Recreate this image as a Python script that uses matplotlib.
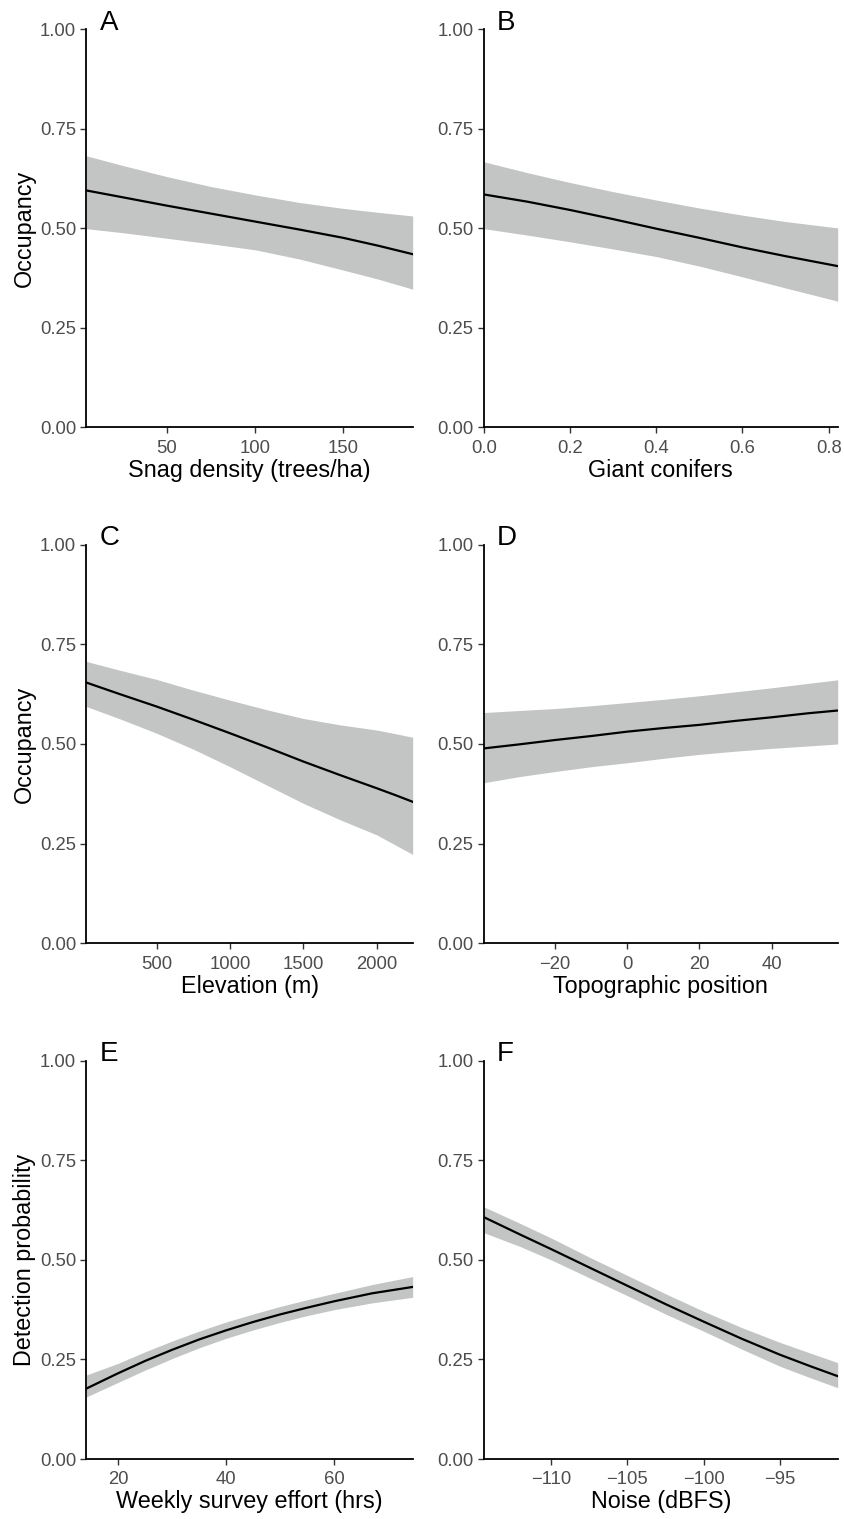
import numpy as np
import matplotlib
matplotlib.use("Agg")
import matplotlib.pyplot as plt
from matplotlib.ticker import FormatStrFormatter

plt.rcParams["font.family"] = ["Liberation Sans", "DejaVu Sans"]

# ---------- values ----------
# A: snag density
snag_x = [4.6, 25, 50, 75, 100, 125, 150, 170, 189.3]
snag_mid = [0.595, 0.578, 0.557, 0.537, 0.517, 0.497, 0.476, 0.456, 0.435]
snag_lo = [0.499, 0.489, 0.475, 0.461, 0.446, 0.423, 0.395, 0.372, 0.347]
snag_hi = [0.682, 0.658, 0.630, 0.605, 0.584, 0.565, 0.550, 0.540, 0.531]

# B: giant conifers
conif_x = [0.0, 0.1, 0.2, 0.3, 0.4, 0.5, 0.6, 0.7, 0.821]
conif_mid = [0.585, 0.567, 0.546, 0.523, 0.499, 0.476, 0.452, 0.430, 0.405]
conif_lo = [0.499, 0.483, 0.466, 0.448, 0.429, 0.405, 0.378, 0.350, 0.317]
conif_hi = [0.667, 0.640, 0.615, 0.592, 0.571, 0.551, 0.533, 0.517, 0.501]

# C: elevation
elev_x = [22, 250, 500, 750, 1000, 1250, 1500, 1750, 2000, 2125, 2245]
elev_mid = [0.654, 0.625, 0.594, 0.561, 0.527, 0.492, 0.456, 0.422, 0.389, 0.372, 0.355]
elev_lo = [0.594, 0.563, 0.527, 0.487, 0.443, 0.397, 0.351, 0.310, 0.272, 0.247, 0.223]
elev_hi = [0.707, 0.685, 0.662, 0.635, 0.610, 0.586, 0.564, 0.548, 0.535, 0.526, 0.517]

# D: topographic position
topo_x = [-39.7, -30, -20, -10, 0, 10, 20, 30, 40, 50, 58.3]
topo_mid = [0.489, 0.499, 0.510, 0.520, 0.531, 0.540, 0.548, 0.558, 0.567, 0.577, 0.584]
topo_lo = [0.403, 0.418, 0.431, 0.443, 0.453, 0.464, 0.474, 0.482, 0.489, 0.495, 0.500]
topo_hi = [0.579, 0.584, 0.589, 0.596, 0.604, 0.612, 0.621, 0.631, 0.641, 0.652, 0.661]

# E: weekly survey effort
effort_x = [14.2, 20, 25, 30, 35, 40, 45, 50, 55, 60, 67, 74.5]
effort_mid = [0.177, 0.215, 0.246, 0.274, 0.300, 0.323, 0.344, 0.363, 0.380, 0.396, 0.416, 0.432]
effort_lo = [0.156, 0.192, 0.223, 0.252, 0.279, 0.303, 0.324, 0.343, 0.360, 0.375, 0.392, 0.406]
effort_hi = [0.211, 0.240, 0.269, 0.296, 0.321, 0.344, 0.364, 0.383, 0.400, 0.416, 0.438, 0.458]

# F: noise
noise_x = [-114.4, -112, -110, -107.5, -105, -102.5, -100, -97.5, -95, -93, -91.2]
noise_mid = [0.607, 0.563, 0.527, 0.481, 0.435, 0.389, 0.345, 0.302, 0.262, 0.233, 0.208]
noise_lo = [0.568, 0.533, 0.500, 0.455, 0.410, 0.364, 0.321, 0.276, 0.233, 0.204, 0.179]
noise_hi = [0.633, 0.591, 0.555, 0.507, 0.461, 0.415, 0.371, 0.330, 0.293, 0.266, 0.242]

panels = [
    ("A", snag_x, snag_mid, snag_lo, snag_hi, "Snag density (trees/ha)", "Occupancy",
     [50, 100, 150], "%d"),
    ("B", conif_x, conif_mid, conif_lo, conif_hi, "Giant conifers", None,
     [0.0, 0.2, 0.4, 0.6, 0.8], "%.1f"),
    ("C", elev_x, elev_mid, elev_lo, elev_hi, "Elevation (m)", "Occupancy",
     [500, 1000, 1500, 2000], "%d"),
    ("D", topo_x, topo_mid, topo_lo, topo_hi, "Topographic position", None,
     [-20, 0, 20, 40], "%d"),
    ("E", effort_x, effort_mid, effort_lo, effort_hi, "Weekly survey effort (hrs)",
     "Detection probability", [20, 40, 60], "%d"),
    ("F", noise_x, noise_mid, noise_lo, noise_hi, "Noise (dBFS)", None,
     [-110, -105, -100, -95], "%d"),
]

W, H = 845, 1519
col_px = [(86.5, 412.7), (484.0, 837.7)]
row_px = [(29.3, 427.3), (544.7, 943.3), (1060.7, 1459.0)]

fig = plt.figure(figsize=(W / 100, H / 100), dpi=100)

for i, (lab, x, mid, lo, hi, xlab, ylab, xt, fmt) in enumerate(panels):
    r, c = divmod(i, 2)
    x0, x1 = col_px[c]
    top, bot = row_px[r]
    ax = fig.add_axes([x0 / W, 1 - bot / H, (x1 - x0) / W, (bot - top) / H])

    ax.fill_between(x, lo, hi, color="#c3c5c5", lw=0)
    ax.plot(x, mid, color="black", lw=1.6)

    ax.set_xlim(x[0], x[-1])
    ax.set_ylim(0, 1)
    ax.set_yticks([0, 0.25, 0.5, 0.75, 1.0])
    ax.yaxis.set_major_formatter(FormatStrFormatter("%.2f"))
    ax.set_xticks(xt)
    ax.xaxis.set_major_formatter(FormatStrFormatter(fmt))
    if fmt == "%d":
        ax.set_xticklabels([str(v).replace("-", "\u2212") for v in xt])

    for s in ("top", "right"):
        ax.spines[s].set_visible(False)
    for s in ("left", "bottom"):
        ax.spines[s].set_linewidth(1.3)
        ax.spines[s].set_color("black")
    ax.tick_params(length=4.2, width=1.0, color="#333333", labelcolor="#4d4d4d",
                   labelsize=13.3)
    ax.tick_params(axis="x", pad=4.6)
    ax.tick_params(axis="y", pad=3.3)

    ax.set_xlabel(xlab, fontsize=16.8, labelpad=1.5)
    if ylab:
        ax.set_ylabel(ylab, fontsize=16.8, labelpad=3)

    fig.text((x0 + 13) / W, 1 - (top + 0.5) / H, lab, fontsize=20,
             va="baseline", ha="left")

fig.savefig("out.png", dpi=100, facecolor="white")
